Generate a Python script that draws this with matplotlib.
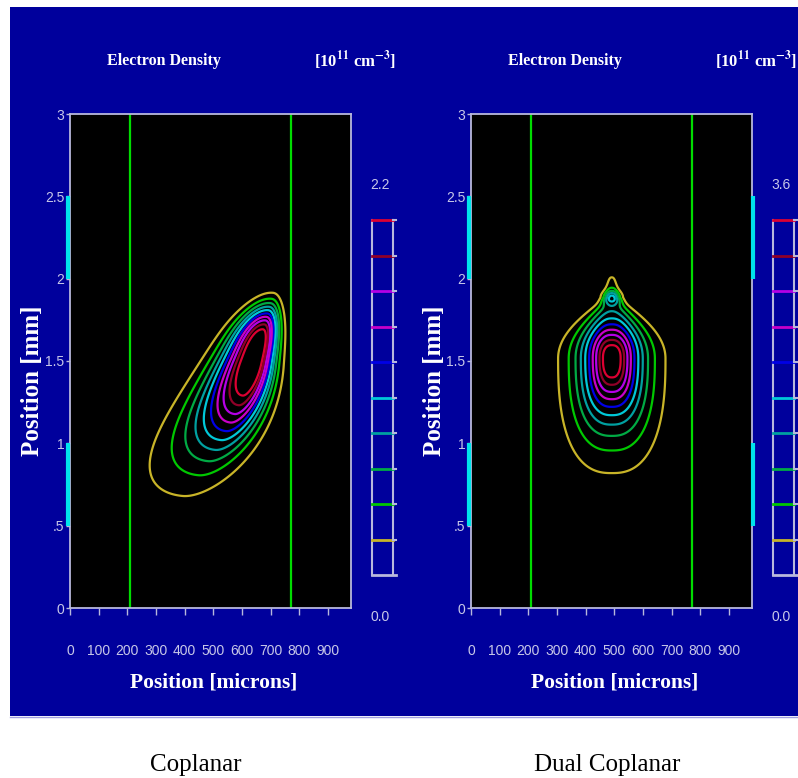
import numpy as np
import matplotlib
matplotlib.use("Agg")
import matplotlib.pyplot as plt
from matplotlib.patches import Rectangle

W, H = 798, 778

# contour level colours, lowest level first
level_colors = ['#c8b428', '#00c800', '#00aa44', '#00a0a0', '#00c8d8',
                '#0000e6', '#c800c8', '#b400e6', '#900028', '#dc0032']
n_levels = 10

panel_names = ['Coplanar', 'Dual Coplanar']
density_max = [2.2, 3.6]          # colour scale top [1e11 cm^-3]
density_max_labels = ['2.2', '3.6']

# electrode edges [microns]
electrode_x = [210, 772]
# side electrode spans [mm]
side_spans = [(2.0, 2.5), (0.5, 1.0)]

x_ticks = [0, 100, 200, 300, 400, 500, 600, 700, 800, 900]
y_ticks = [0, 0.5, 1, 1.5, 2, 2.5, 3]
y_ticklabels = ['0', '.5', '1', '1.5', '2', '2.5', '3']
x_max = 980
y_max = 3.0

# Discharge density lobes.  For each lobe: peak value, centre x [microns],
# centre y [mm], tilt of the long axis from vertical [deg], fall-off lengths [mm]
# above / below the centre and to the left / right of the axis, fall-off
# exponents above / below / across, overall exponent, width change along the
# axis (linear, and quadratic above the centre) and bend of the lower tail.
cop_amp = [2.35]
cop_cx = [640]
cop_cy = [1.485]
cop_tilt = [9]
cop_s_up = [0.284]
cop_s_down = [0.36]
cop_s_left = [0.082]
cop_s_right = [0.048]
cop_p_up = [3.75]
cop_p_down = [1.9]
cop_p_side = [2.0]
cop_e = [1.0]
cop_taper = [1.1]
cop_taper2 = [0.0]
cop_bend = [0.17]

dual_amp = [3.86, 1.0]
dual_cx = [491, 491]
dual_cy = [1.515, 1.885]
dual_tilt = [0, 0]
dual_s_up = [0.17, 0.03]
dual_s_down = [0.24, 0.03]
dual_s_left = [0.0646, 0.025]
dual_s_right = [0.0646, 0.025]
dual_p_up = [2.5, 2.0]
dual_p_down = [2.5, 2.0]
dual_p_side = [2.5, 2.0]
dual_e = [0.6, 1.0]
dual_taper = [0.0, 0.0]
dual_taper2 = [6.15, 0.0]
dual_bend = [0.0, 0.0]

lobes = [
    dict(amp=cop_amp, cx=cop_cx, cy=cop_cy, tilt=cop_tilt, s_up=cop_s_up,
         s_down=cop_s_down, s_left=cop_s_left, s_right=cop_s_right,
         p_up=cop_p_up, p_down=cop_p_down, p_side=cop_p_side, e=cop_e,
         taper=cop_taper, taper2=cop_taper2, bend=cop_bend),
    dict(amp=dual_amp, cx=dual_cx, cy=dual_cy, tilt=dual_tilt, s_up=dual_s_up,
         s_down=dual_s_down, s_left=dual_s_left, s_right=dual_s_right,
         p_up=dual_p_up, p_down=dual_p_down, p_side=dual_p_side, e=dual_e,
         taper=dual_taper, taper2=dual_taper2, bend=dual_bend),
]

BG = '#00009c'
FRAME = '#b8b8dc'
TICKTXT = '#c8c8e8'
CYAN = '#00e4ec'
GREEN = '#00dc00'


def density(X, Y, p):
    Z = np.zeros_like(X)
    u = X / 1000.0
    for k in range(len(p['amp'])):
        th = np.deg2rad(p['tilt'][k])
        du = u - p['cx'][k] / 1000.0
        dv = Y - p['cy'][k]
        a = du * np.sin(th) + dv * np.cos(th)
        c = du * np.cos(th) - dv * np.sin(th)
        c = c + p['bend'][k] * np.minimum(a, 0) ** 2
        width = 1 - p['taper'][k] * a - p['taper2'][k] * np.maximum(a, 0) ** 2
        width = np.maximum(width, 0.15)
        sa = np.where(a > 0, p['s_up'][k], p['s_down'][k])
        pa = np.where(a > 0, p['p_up'][k], p['p_down'][k])
        sc = np.where(c > 0, p['s_right'][k], p['s_left'][k]) * width
        T = np.abs(a / sa) ** pa + np.abs(c / sc) ** p['p_side'][k]
        Z += p['amp'][k] * np.exp(-0.5 * T ** p['e'][k])
    return Z


def px_axes(fig, x0, y0, x1, y1):
    return fig.add_axes([x0 / W, 1 - y1 / H, (x1 - x0) / W, (y1 - y0) / H])


def ftext(fig, x, y, s, **kw):
    return fig.text(x / W, 1 - y / H, s, **kw)


plt.rcParams['mathtext.fontset'] = 'stix'
fig = plt.figure(figsize=(W / 100, H / 100), dpi=100)
fig.patch.set_facecolor('white')
fig.patches.append(Rectangle((10 / W, 1 - 716 / H), (W - 10) / W, (716 - 7) / H,
                             transform=fig.transFigure, facecolor=BG,
                             edgecolor='none', zorder=-10))
fig.lines.append(plt.Line2D([10 / W, 1], [1 - 716.5 / H] * 2, transform=fig.transFigure,
                            color='#a0a0e0', lw=1.0))

serif = ['Liberation Serif', 'DejaVu Serif']
sans = ['Liberation Sans', 'DejaVu Sans']

xs = np.linspace(0, x_max, 700)
ys = np.linspace(0, y_max, 900)
X, Y = np.meshgrid(xs, ys)

panel_x0 = [70, 471]
for i in range(2):
    px = panel_x0[i]
    ax = px_axes(fig, px, 114, px + 281, 608)
    ax.set_facecolor('black')
    ax.set_xlim(0, x_max)
    ax.set_ylim(0, y_max)
    for s in ax.spines.values():
        s.set_color(FRAME)
        s.set_linewidth(1.3)
    ax.set_xticks(x_ticks)
    ax.set_xticklabels([str(v) for v in x_ticks], family=sans)
    ax.set_yticks(y_ticks)
    ax.set_yticklabels(y_ticklabels, family=sans)
    ax.tick_params(axis='x', colors=FRAME, labelcolor=TICKTXT, length=5,
                   width=1, direction='out', labelsize=10, pad=21)
    ax.tick_params(axis='y', colors=FRAME, labelcolor=TICKTXT, length=3,
                   width=1, direction='out', labelsize=10, pad=1)

    # electrode edges
    for ex in electrode_x:
        ax.axvline(ex, color=GREEN, lw=1.6)

    # side electrodes
    for lo, hi in side_spans:
        ax.plot([-6, -6], [lo, hi], color=CYAN, lw=3, clip_on=False,
                solid_capstyle='butt', zorder=5)
        if i == 1:
            ax.plot([x_max + 4, x_max + 4], [lo, hi], color=CYAN, lw=3,
                    clip_on=False, solid_capstyle='butt', zorder=5)

    Z = density(X, Y, lobes[i])
    step = density_max[i] / (n_levels + 1)
    levels = [step * k for k in range(1, n_levels + 1)]
    ax.contour(X, Y, Z, levels=levels, colors=level_colors, linewidths=1.6)

    # header and axis labels
    ftext(fig, px + 94, 61, 'Electron Density', family=serif, weight='bold',
          color='white', fontsize=11.5, ha='center', va='center')
    ftext(fig, px + 285, 61, r'[10$^{\mathbf{11}}$ cm$^{\mathbf{-3}}$]', family=serif,
          weight='bold', color='white', fontsize=12, ha='center', va='center')
    ftext(fig, px + 144, 683, 'Position [microns]', family=serif, weight='bold',
          color='white', fontsize=15.5, ha='center', va='center')
    ftext(fig, px - 37, 381, 'Position [mm]', family=serif, weight='bold',
          color='white', fontsize=18, ha='center', va='center', rotation=90)
    ftext(fig, px + 126 + (10 if i == 1 else 0), 765, panel_names[i], family=serif,
          color='black', fontsize=18, ha='center', va='center')

    # level key
    cb_x0 = px + 302
    cax = px_axes(fig, cb_x0, 220, cb_x0 + 21, 575)
    cax.set_xlim(0, 1)
    cax.set_ylim(0, n_levels)
    cax.axis('off')
    cax.plot([0, 0], [0, n_levels], color=FRAME, lw=1.5, clip_on=False)
    cax.plot([1, 1], [0, n_levels], color=FRAME, lw=1.5, clip_on=False)
    cax.plot([0, 1.12], [0, 0], color=FRAME, lw=2, clip_on=False)
    for k in range(1, n_levels + 1):
        cax.plot([0, 1], [k, k], color=level_colors[k - 1], lw=2, clip_on=False)
        cax.plot([1, 1.12], [k, k], color=FRAME, lw=1.5, clip_on=False)
    ftext(fig, cb_x0 + 8, 185, density_max_labels[i], family=sans,
          color=TICKTXT, fontsize=10, ha='center', va='center')
    ftext(fig, cb_x0 + 8, 617, '0.0', family=sans,
          color=TICKTXT, fontsize=10, ha='center', va='center')

fig.savefig('out.png', dpi=100, facecolor='white')
